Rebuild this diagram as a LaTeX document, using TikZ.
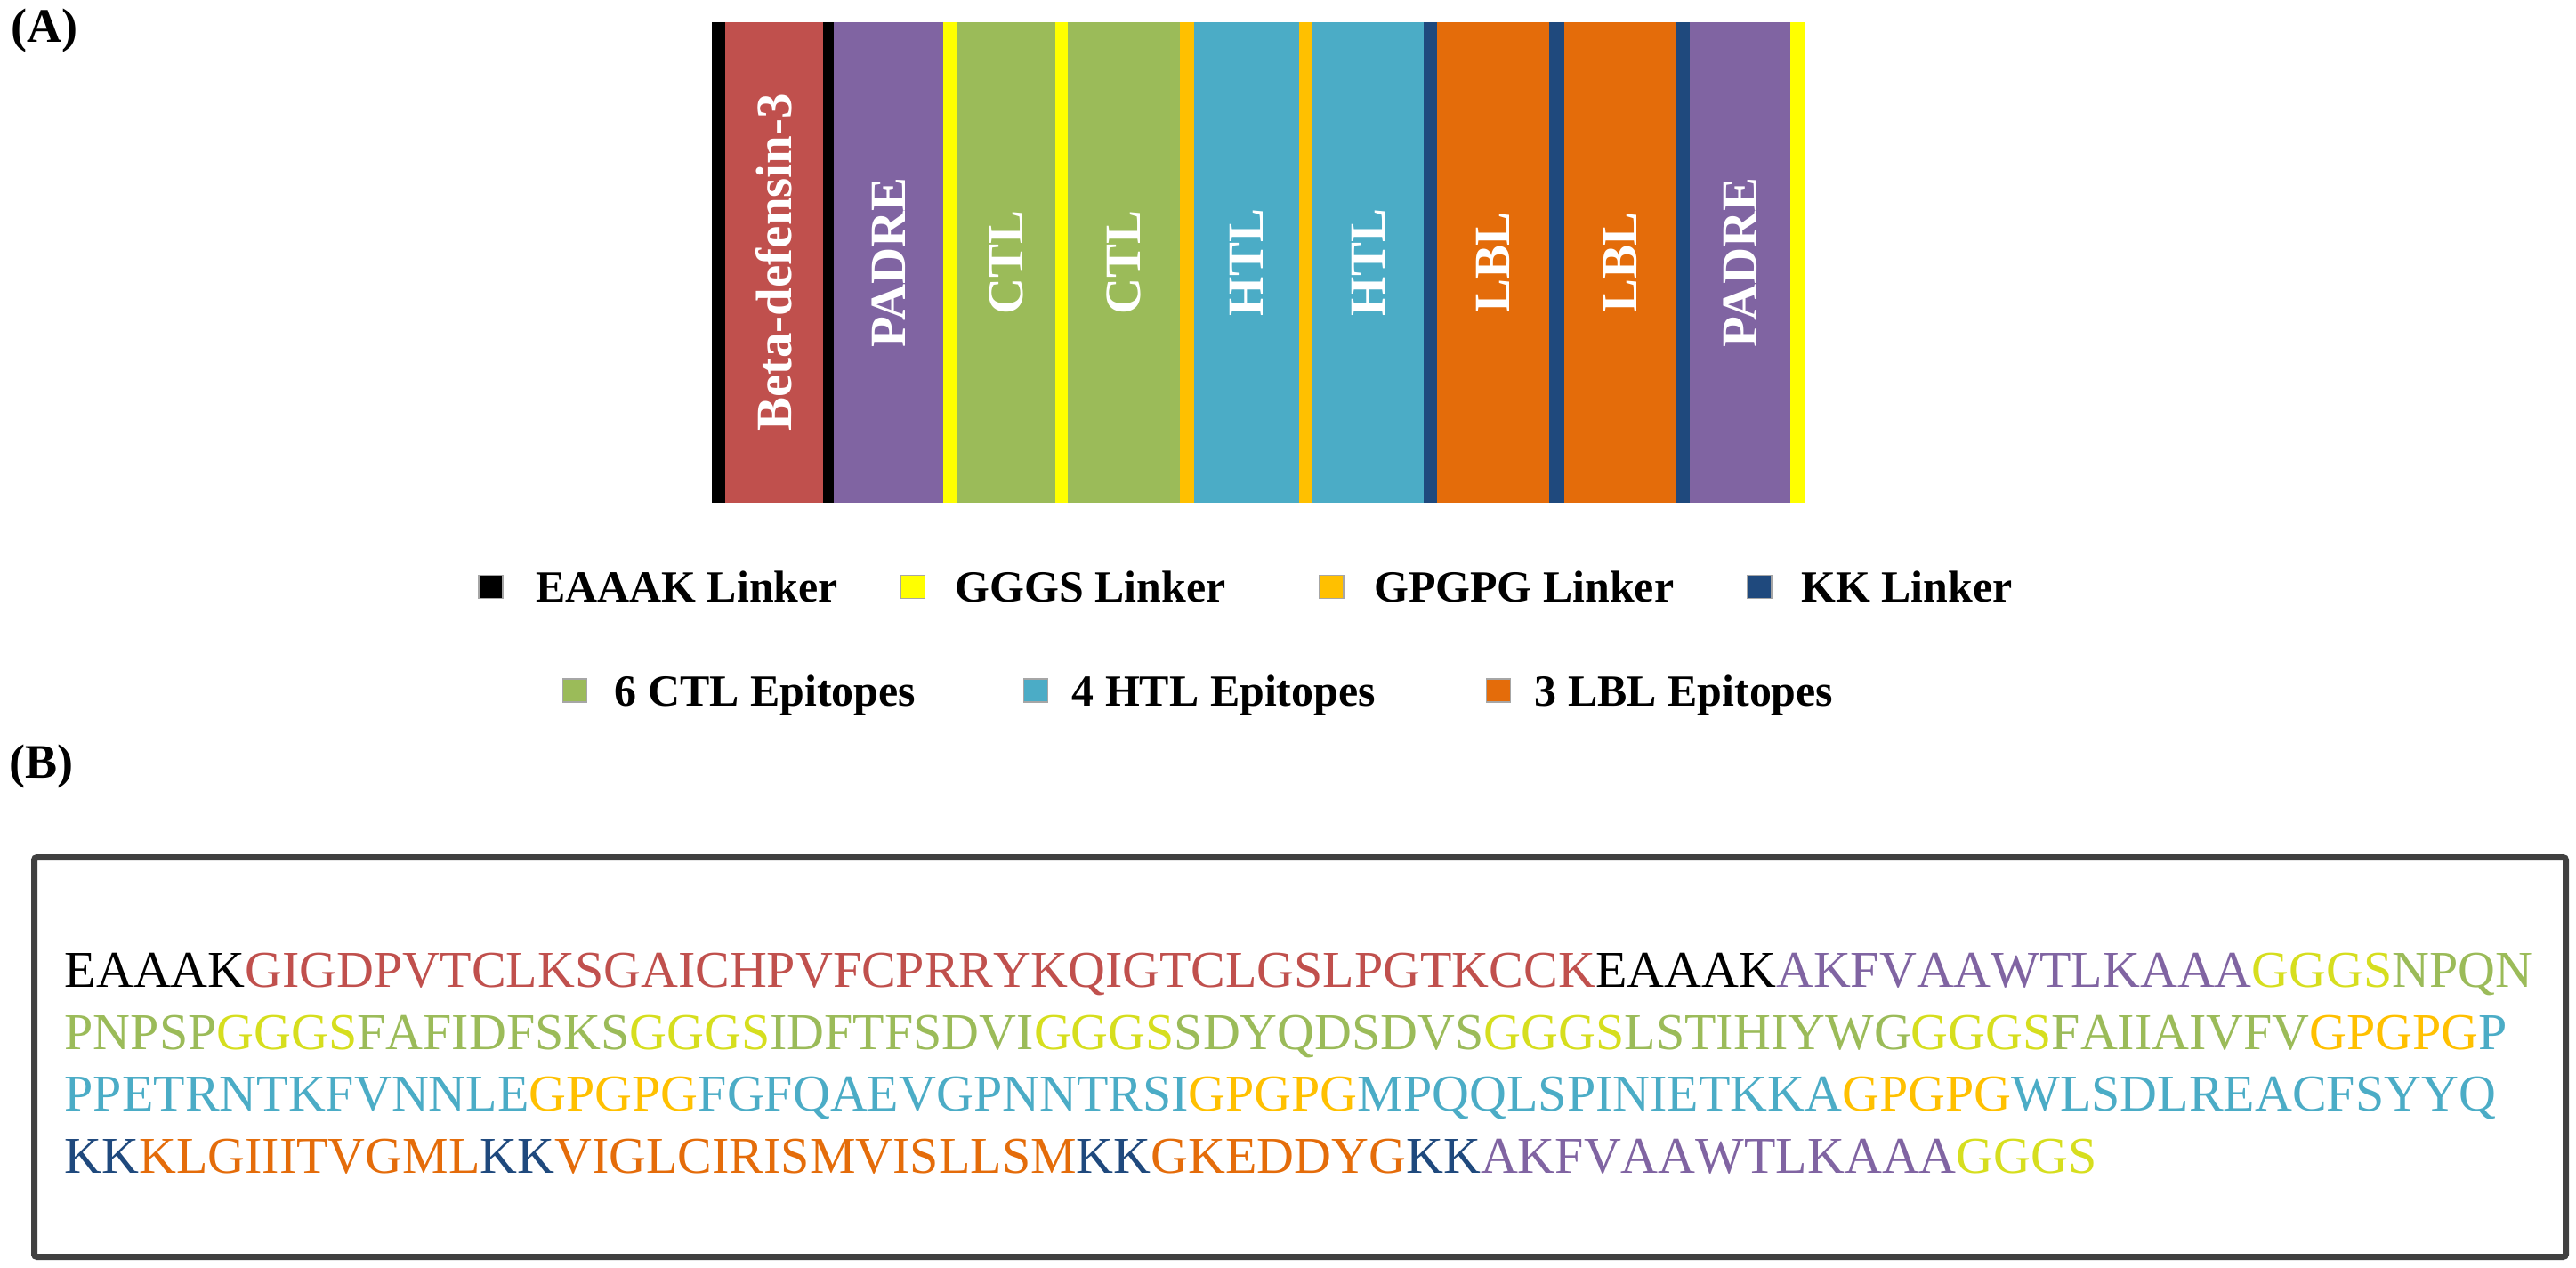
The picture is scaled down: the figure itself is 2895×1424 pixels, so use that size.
\documentclass[tikz,border=0pt]{standalone}
\usepackage{fontspec}
\setmainfont{Liberation Serif}
\newfontfamily\seqfont{Liberation Serif}[Kerning=Off]
\usepackage{tikz}
\usetikzlibrary{positioning}
\definecolor{bdred}{HTML}{C0504D}
\definecolor{padpurple}{HTML}{8064A2}
\definecolor{ctlgreen}{HTML}{9BBB59}
\definecolor{htlblue}{HTML}{4BACC6}
\definecolor{lblorange}{HTML}{E46C0A}
\definecolor{kknavy}{HTML}{1F497D}
\definecolor{gggsyellow}{HTML}{FFFF00}
\definecolor{gpgold}{HTML}{FFC000}
\definecolor{seqyellow}{RGB}{214,222,30}
\definecolor{boxgray}{HTML}{404040}
\tikzstyle{seg} = [rectangle, inner sep=0pt, outer sep=0pt, minimum height=54mm]
\tikzstyle{linker} = [seg, minimum width=1.5mm]
\tikzstyle{seglabel} = [text=white, inner sep=0pt, rotate=90,
    font=\fontsize{16.2}{19}\selectfont\bfseries]
\tikzstyle{legbox} = [rectangle, draw=gray!70, line width=0.3pt,
    minimum width=2.7mm, minimum height=2.6mm, inner sep=0pt]
\tikzstyle{legtext} = [inner sep=0pt, text depth=0pt,
    font=\fontsize{14.2}{17}\selectfont\bfseries]
\tikzstyle{seqline} = [inner sep=0pt, anchor=base west,
    font=\seqfont\fontsize{16.5}{20}\selectfont]
\tikzstyle{panel} = [inner sep=0pt, anchor=base west,
    font=\fontsize{15.4}{18}\selectfont\bfseries]
\begin{document}
\begin{tikzpicture}[x=0.1mm,y=-0.1mm]
    \useasboundingbox (0,0) rectangle (2895,1424);
    % Panel labels
    \node [panel] (labA) at (12,47) {(A)};
    \node [panel] (labB) at (10,874) {(B)};
    % Place construct segments
    \node [linker, fill=black, anchor=north west] (eaaakA) at (800,25) {};
    \node [seg, fill=bdred, minimum width=11mm, right=0pt of eaaakA] (bdef) {};
    \node [linker, fill=black, minimum width=1.2mm, right=0pt of bdef] (eaaakB) {};
    \node [seg, fill=padpurple, minimum width=12.3mm, right=0pt of eaaakB] (padreA) {};
    \node [linker, fill=gggsyellow, right=0pt of padreA] (gggsA) {};
    \node [seg, fill=ctlgreen, minimum width=11.1mm, right=0pt of gggsA] (ctlA) {};
    \node [linker, fill=gggsyellow, minimum width=1.4mm, right=0pt of ctlA] (gggsB) {};
    \node [seg, fill=ctlgreen, minimum width=12.6mm, right=0pt of gggsB] (ctlB) {};
    \node [linker, fill=gpgold, minimum width=1.6mm, right=0pt of ctlB] (gpgpgA) {};
    \node [seg, fill=htlblue, minimum width=11.8mm, right=0pt of gpgpgA] (htlA) {};
    \node [linker, fill=gpgold, right=0pt of htlA] (gpgpgB) {};
    \node [seg, fill=htlblue, minimum width=12.5mm, right=0pt of gpgpgB] (htlB) {};
    \node [linker, fill=kknavy, right=0pt of htlB] (kkA) {};
    \node [seg, fill=lblorange, minimum width=12.6mm, right=0pt of kkA] (lblA) {};
    \node [linker, fill=kknavy, minimum width=1.7mm, right=0pt of lblA] (kkB) {};
    \node [seg, fill=lblorange, minimum width=12.6mm, right=0pt of kkB] (lblB) {};
    \node [linker, fill=kknavy, right=0pt of lblB] (kkC) {};
    \node [seg, fill=padpurple, minimum width=11.3mm, right=0pt of kkC] (padreB) {};
    \node [linker, fill=gggsyellow, minimum width=1.6mm, right=0pt of padreB] (gggsC) {};
    % Segment labels
    \node [seglabel] at (bdef.center) {Beta-defensin-3};
    \node [seglabel] at (padreA.center) {PADRE};
    \node [seglabel] at (ctlA.center) {CTL};
    \node [seglabel] at (ctlB.center) {CTL};
    \node [seglabel] at (htlA.center) {HTL};
    \node [seglabel] at (htlB.center) {HTL};
    \node [seglabel] at (lblA.center) {LBL};
    \node [seglabel] at (lblB.center) {LBL};
    \node [seglabel] at (padreB.center) {PADRE};
    % Legend
    \node [legbox, fill=black] (legeaaak) at (551.5,659.5) {};
    \node [legtext, right=3.6mm of legeaaak] (txeaaak) {EAAAK Linker};
    \node [legbox, fill=gggsyellow] (leggggs) at (1026,659.5) {};
    \node [legtext, right=3.3mm of leggggs] (txgggs) {GGGS Linker};
    \node [legbox, fill=gpgold] (leggpgpg) at (1496.5,659.5) {};
    \node [legtext, right=3.3mm of leggpgpg] (txgpgpg) {GPGPG Linker};
    \node [legbox, fill=kknavy] (legkk) at (1977.5,659.5) {};
    \node [legtext, right=3.2mm of legkk] (txkk) {KK Linker};
    \node [legbox, fill=ctlgreen] (legctl) at (646,776) {};
    \node [legtext, right=3.0mm of legctl] (txctl) {6 CTL Epitopes};
    \node [legbox, fill=htlblue] (leghtl) at (1164,776) {};
    \node [legtext, right=2.6mm of leghtl] (txhtl) {4 HTL Epitopes};
    \node [legbox, fill=lblorange] (leglbl) at (1684,776) {};
    \node [legtext, right=2.6mm of leglbl] (txlbl) {3 LBL Epitopes};
    % Sequence box
    \draw [line width=0.7mm, draw=boxgray, rounded corners=0.3mm] (38.5,963.5) rectangle (2883.5,1412.5);
    \node [seqline] (seqA) at (72,1109) {EAAAK\textcolor{bdred}{GIGDPVTCLKSGAICHPVFCPRRYKQIGTCLGSLPGTKCCK}EAAAK\textcolor{padpurple}{AKFVAAWTLKAAA}\textcolor{seqyellow}{GGGS}\textcolor{ctlgreen}{NPQN}};
    \node [seqline] (seqB) at (72,1179) {\textcolor{ctlgreen}{PNPSP}\textcolor{seqyellow}{GGGS}\textcolor{ctlgreen}{FAFIDFSKS}\textcolor{seqyellow}{GGGS}\textcolor{ctlgreen}{IDFTFSDVI}\textcolor{seqyellow}{GGGS}\textcolor{ctlgreen}{SDYQDSDVS}\textcolor{seqyellow}{GGGS}\textcolor{ctlgreen}{LSTIHIYWG}\textcolor{seqyellow}{GGGS}\textcolor{ctlgreen}{FAIIAIVFV}\textcolor{gpgold}{GPGPG}\textcolor{htlblue}{P}};
    \node [seqline] (seqC) at (72,1248) {\textcolor{htlblue}{PPETRNTKFVNNLE}\textcolor{gpgold}{GPGPG}\textcolor{htlblue}{FGFQAEVGPNNTRSI}\textcolor{gpgold}{GPGPG}\textcolor{htlblue}{MPQQLSPINIETKKA}\textcolor{gpgold}{GPGPG}\textcolor{htlblue}{WLSDLREACFSYYQ}};
    \node [seqline] (seqD) at (72,1318) {\textcolor{kknavy}{KK}\textcolor{lblorange}{KLGIIITVGML}\textcolor{kknavy}{KK}\textcolor{lblorange}{VIGLCIRISMVISLLSM}\textcolor{kknavy}{KK}\textcolor{lblorange}{GKEDDYG}\textcolor{kknavy}{KK}\textcolor{padpurple}{AKFVAAWTLKAAA}\textcolor{seqyellow}{GGGS}};
\end{tikzpicture}
\end{document}
